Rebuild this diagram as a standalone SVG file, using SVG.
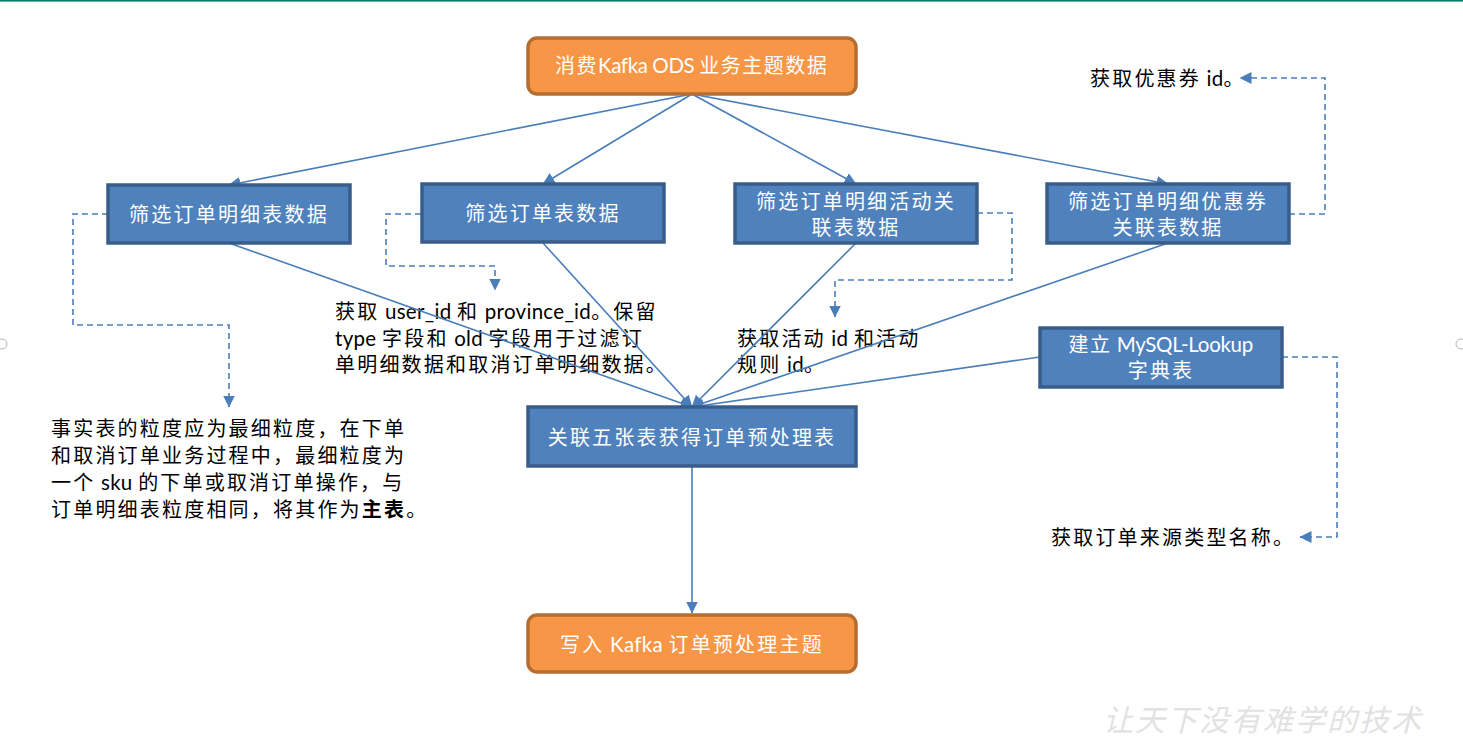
<svg xmlns="http://www.w3.org/2000/svg" width="1463" height="742" viewBox="0 0 1463 742">
<style>
text{font-family:"Lato","Noto Sans CJK SC",sans-serif;font-size:20px;letter-spacing:2.2px}
.l{letter-spacing:.3px;font-size:20.5px}
.w{fill:#fff;text-anchor:middle}
.k{fill:#000}
.b{fill:#4f81bd;stroke:#385d8a;stroke-width:3.5}
.o{fill:#f79646;stroke:#b66d31;stroke-width:3.5}
.c{fill:none;stroke:#4a7ebb;stroke-width:1.6}
.d{fill:none;stroke:#4a7ebb;stroke-width:1.6;stroke-dasharray:6 4}
</style>
<defs>
<marker id="a" markerUnits="userSpaceOnUse" markerWidth="13" markerHeight="13" refX="11.5" refY="6" orient="auto"><path d="M0 0L12 6L0 12z" fill="#4a7ebb"/></marker>
</defs>
<rect width="1463" height="742" fill="#fff"/>
<rect x="0" y="0" width="1463" height="1.6" fill="#0f7b6c"/>
<circle cx="2" cy="344" r="5" fill="#fff" stroke="#b5b5b5"/>
<circle cx="1461" cy="344" r="5" fill="#fff" stroke="#b5b5b5"/>
<g id="t1"><text class="k" x="51" y="436">事实表的粒度应为最细粒度，在下单</text><text class="k" x="51" y="463">和取消订单业务过程中，最细粒度为</text><text class="k" x="51" y="490">一个<tspan class="l"> sku </tspan>的下单或取消订单操作，与</text><text class="k" x="51" y="517">订单明细表粒度相同，将其作为<tspan font-weight="700">主表</tspan>。</text></g>
<g id="t2"><text class="k" x="335" y="319">获取<tspan class="l"> user_id </tspan>和<tspan class="l"> province_id</tspan>。保留</text><text class="k" x="335" y="346"><tspan class="l">type </tspan>字段和<tspan class="l"> old </tspan>字段用于过滤订</text><text class="k" x="335" y="372">单明细数据和取消订单明细数据。</text></g>
<g id="t3"><text class="k" x="737" y="346">获取活动<tspan class="l"> id </tspan>和活动</text><text class="k" x="737" y="372">规则<tspan class="l"> id</tspan>。</text></g>
<g id="t4"><text class="k" x="1090" y="86">获取优惠券<tspan class="l"> id</tspan>。</text></g>
<g id="t5"><text class="k" x="1051" y="545">获取订单来源类型名称。</text></g>
<g id="connectors">
<path class="c" marker-end="url(#a)" d="M692 94L229 185"/>
<path class="c" marker-end="url(#a)" d="M692 94L543 184"/>
<path class="c" marker-end="url(#a)" d="M692 94L856 184"/>
<path class="c" marker-end="url(#a)" d="M692 94L1168 184"/>
<path class="c" marker-end="url(#a)" d="M229 243L692 407"/>
<path class="c" marker-end="url(#a)" d="M543 243L692 407"/>
<path class="c" marker-end="url(#a)" d="M856 243L692 407"/>
<path class="c" marker-end="url(#a)" d="M1168 243L692 407"/>
<path class="c" marker-end="url(#a)" d="M1040 357L692 407"/>
<path class="c" marker-end="url(#a)" d="M692 466V613"/>
<path class="d" marker-end="url(#a)" d="M108 214H73V325H229V407"/>
<path class="d" marker-end="url(#a)" d="M421 214H386V266H495V290"/>
<path class="d" marker-end="url(#a)" d="M977 213H1012V280H835V317"/>
<path class="d" marker-end="url(#a)" d="M1289 214H1325V78H1240"/>
<path class="d" marker-end="url(#a)" d="M1282 357H1337V537H1300"/>
</g>
<g id="n1"><rect class="o" x="528" y="38" width="328" height="56" rx="9"/><text class="w" x="692" y="73" textLength="274" lengthAdjust="spacing">消费<tspan class="l">Kafka ODS </tspan>业务主题数据</text></g>
<g id="n2"><rect class="b" x="108" y="185" width="242" height="58"/><text class="w" x="229" y="222">筛选订单明细表数据</text></g>
<g id="n3"><rect class="b" x="422" y="184" width="242" height="58"/><text class="w" x="543" y="221">筛选订单表数据</text></g>
<g id="n4"><rect class="b" x="735" y="184" width="242" height="59"/><text class="w" x="856" y="209">筛选订单明细活动关</text><text class="w" x="856" y="235">联表数据</text></g>
<g id="n5"><rect class="b" x="1047" y="184" width="242" height="59"/><text class="w" x="1168" y="209">筛选订单明细优惠券</text><text class="w" x="1168" y="235">关联表数据</text></g>
<g id="n6"><rect class="b" x="1040" y="328" width="242" height="59"/><text class="w" x="1161" y="352" textLength="185" lengthAdjust="spacing">建立<tspan class="l"> MySQL-Lookup</tspan></text><text class="w" x="1161" y="378">字典表</text></g>
<g id="n7"><rect class="b" x="528" y="407" width="328" height="59"/><text class="w" x="692" y="445">关联五张表获得订单预处理表</text></g>
<g id="n8"><rect class="o" x="528" y="615" width="328" height="57" rx="9"/><text class="w" x="692" y="652">写入<tspan class="l"> Kafka </tspan>订单预处理主题</text></g>
<text x="1103" y="731" style="font-size:30px;letter-spacing:2px;font-style:italic" fill="#e2e2e2">让天下没有难学的技术</text>
</svg>
